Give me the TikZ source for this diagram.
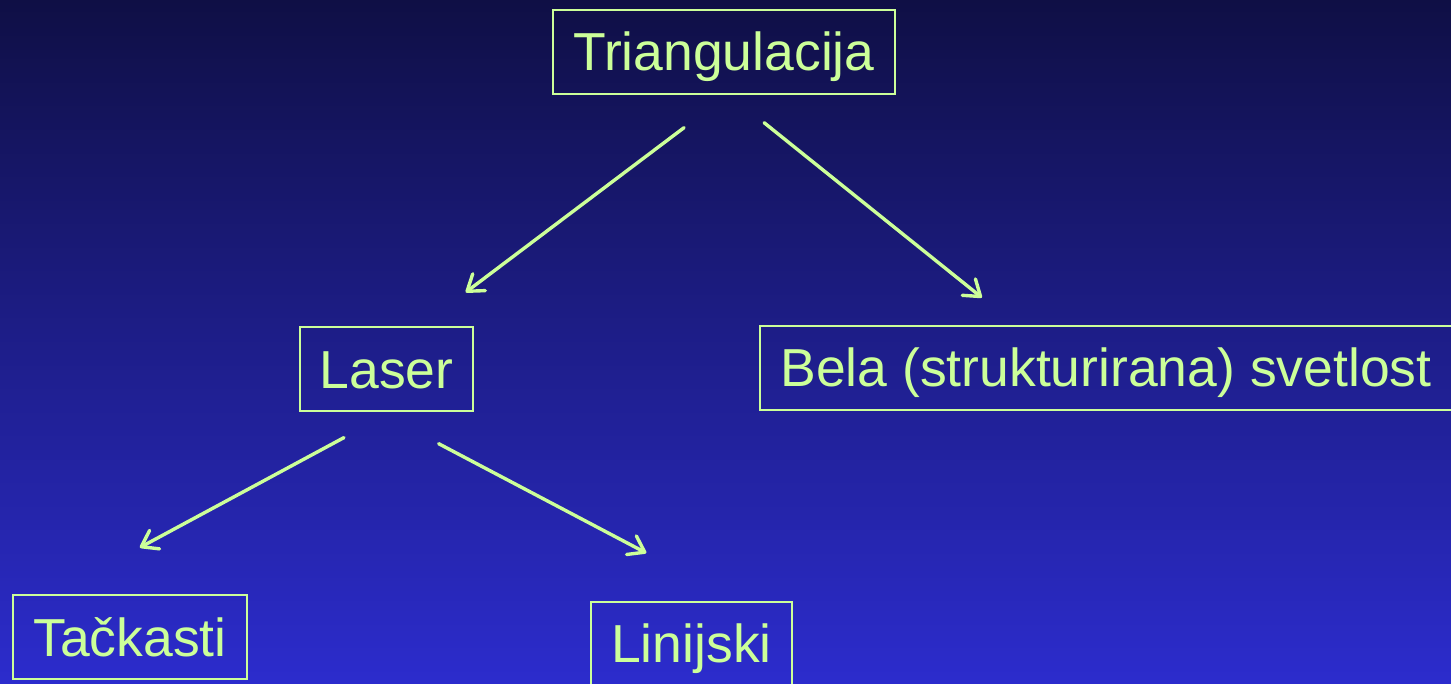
\documentclass[tikz,border=0pt]{standalone}
\usepackage{fontspec}
\setmainfont{Liberation Sans}
\usepackage{xcolor}
\usetikzlibrary{arrows.meta}
\definecolor{slidetop}{HTML}{0F0F45}
\definecolor{slidebot}{HTML}{2C2CCD}
\definecolor{limeacc}{HTML}{CCFF99}

\begin{document}
\begin{tikzpicture}[x=1pt,y=-1pt,
    box/.style={draw=limeacc,line width=2pt,text=limeacc,font=\fontsize{53.5}{60}\selectfont,
      inner xsep=20pt,minimum height=84pt,text height=38.5pt,text depth=0pt},
    arr/.style={draw=limeacc,line width=3.4pt,line cap=round,-{Straight Barb[length=15pt,width=21pt,round]}}]
  \useasboundingbox (0,0) rectangle (1451,683);
  \clip (0,0) rectangle (1451,683);
  \shade[top color=slidetop,bottom color=slidebot] (0,0) rectangle (1451,683);

  \node[box] (tri) at (724,51.5) {Triangulacija};
  \node[box] (lsr) at (386.5,369) {Laser};
  \node[box] (bela) at (1106,367.5) {Bela (strukturirana) svetlost};
  \node[box] (tac) at (130,637) {Tačkasti};
  \node[box] (lin) at (691.5,643.5) {Linijski};

  % the arrows stop short of the boxes
  \draw[arr,shorten <=55pt,shorten >=56pt] ([xshift=4]tri.south) -- ([xshift=34.5]lsr.north);
  \draw[arr,shorten <=45pt,shorten >=43pt] ([xshift=5]tri.south) -- ([xshift=-90.6]bela.north);
  \draw[arr,shorten <=54pt,shorten >=98pt] ([xshift=5]lsr.south) -- ([xshift=-76.4]tac.north);
  \draw[arr,shorten <=68pt,shorten >=102pt] ([xshift=-8]lsr.south) -- ([xshift=45]lin.north);
\end{tikzpicture}
\end{document}
